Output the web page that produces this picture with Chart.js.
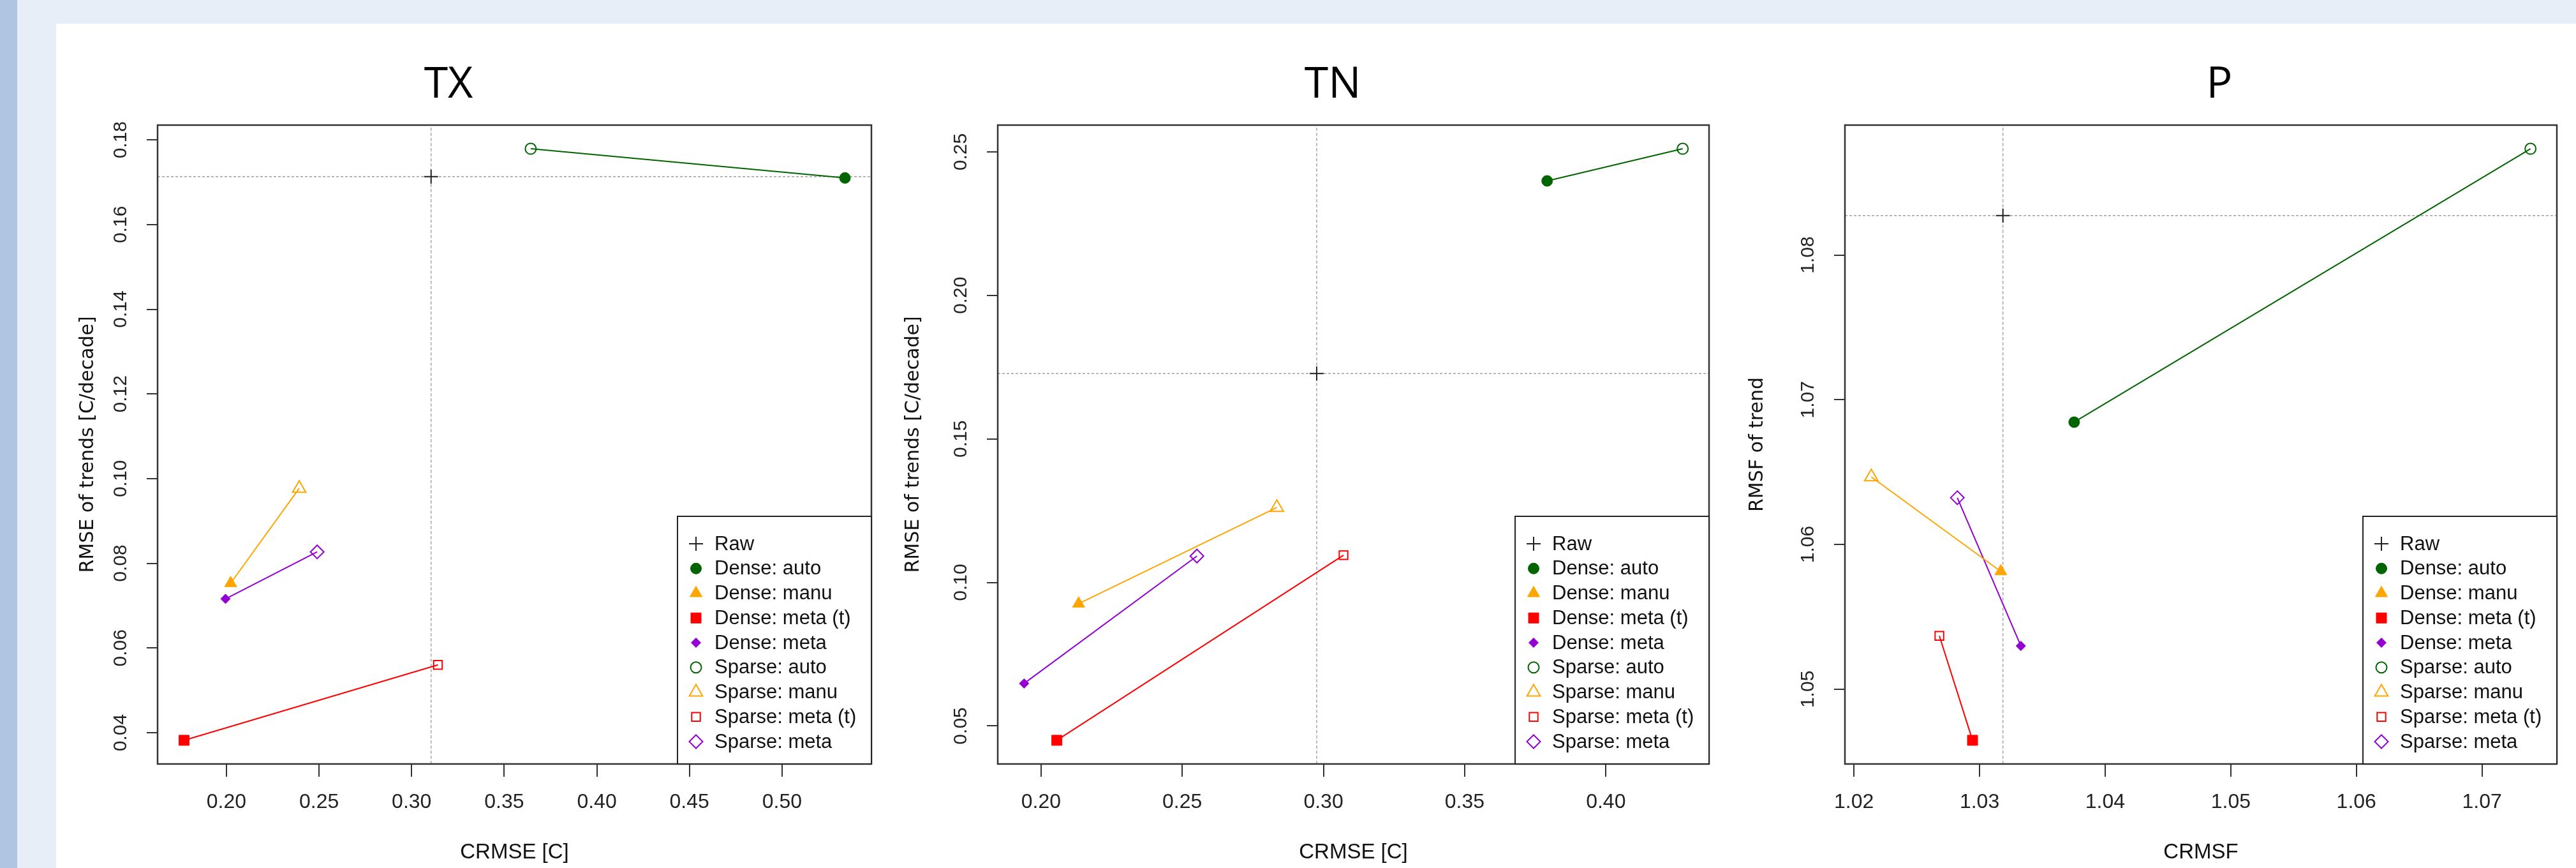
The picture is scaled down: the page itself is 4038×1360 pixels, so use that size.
<!DOCTYPE html>
<html>
<head>
<meta charset="utf-8">
<script src="https://cdn.jsdelivr.net/npm/chart.js@4.4.0/dist/chart.umd.min.js"></script>
<style>
  html, body { margin: 0; padding: 0; }
  body { width: 4038px; height: 1360px; background: #e8eef7; position: relative; overflow: hidden; }
  .franja { position: absolute; left: 0; top: 0; width: 27px; height: 1360px; background: #afc5e1; }
  .fondo { position: absolute; left: 88px; top: 37px; right: 0; bottom: 0; background: #fff; }
  .titulo { position: absolute; top: 93px; font-family: "Open Sans", sans-serif; font-size: 68px; line-height: 68px; transform: translateX(-50%); color: #000; }
  canvas { position: absolute; top: 140px; }
</style>
</head>
<body>
<div class="franja"></div>
<div class="fondo"></div>
<div class="titulo" style="left:703px">TX</div>
<div class="titulo" style="left:2089px">TN</div>
<div class="titulo" style="left:3479px">P</div>
<canvas id="graficoTX"></canvas>
<canvas id="graficoTN"></canvas>
<canvas id="graficoP"></canvas>
<script>
// Datos
const metodos = ['auto', 'manu', 'meta (t)', 'meta'];

const txDenseX = [0.534, 0.2023, 0.1771, 0.1995];
const txDenseY = [0.1710, 0.0753, 0.0382, 0.0716];
const txSparseX = [0.3643, 0.2393, 0.3142, 0.2490];
const txSparseY = [0.1779, 0.0977, 0.0560, 0.0827];
const txRaw = [0.3105, 0.1713];
const txXTicks = [0.20, 0.25, 0.30, 0.35, 0.40, 0.45, 0.50];
const txYTicks = [0.04, 0.06, 0.08, 0.10, 0.12, 0.14, 0.16, 0.18];

const tnDenseX = [0.3792, 0.2133, 0.2056, 0.1940];
const tnDenseY = [0.2399, 0.0926, 0.0450, 0.0648];
const tnSparseX = [0.4272, 0.2835, 0.3071, 0.2552];
const tnSparseY = [0.2511, 0.1261, 0.1095, 0.1092];
const tnRaw = [0.2976, 0.1728];
const tnXTicks = [0.20, 0.25, 0.30, 0.35, 0.40];
const tnYTicks = [0.05, 0.10, 0.15, 0.20, 0.25];

const pDenseX = [1.03753, 1.03169, 1.02944, 1.03329];
const pDenseY = [1.06845, 1.05814, 1.04647, 1.05299];
const pSparseX = [1.07386, 1.02138, 1.02680, 1.02823];
const pSparseY = [1.08734, 1.06467, 1.05369, 1.06323];
const pRaw = [1.03186, 1.08272];
const pXTicks = [1.02, 1.03, 1.04, 1.05, 1.06, 1.07];
const pYTicks = [1.05, 1.06, 1.07, 1.08];

// Estilos de simbolos (como pch de R)
const colores = ['#006400', '#ffa500', '#ff0000', '#9400d3'];
const estiloDense = ['circle', 'triangle', 'rect', 'rectRot'];
const radioDense = [8.5, 11, 11.3, 7.5];
const radioSparse = [8.5, 12, 9.5, 10.5];

const fuente = '"Liberation Sans", Arial, sans-serif';
const ANCHO_Y = 170, ALTO_X = 163;

function limites(valores) {
  const min = Math.min(...valores);
  const max = Math.max(...valores);
  const r = (max - min) * 0.04;
  return [min - r, max + r];
}

// Caja del grafico
const marco = {
  id: 'marco',
  afterDatasetsDraw(chart) {
    const a = chart.chartArea;
    const ctx = chart.ctx;
    ctx.save();
    ctx.strokeStyle = '#333';
    ctx.lineWidth = 2.5;
    ctx.strokeRect(a.left, a.top, a.right - a.left, a.bottom - a.top);
    ctx.restore();
  }
};

// Leyenda dentro del area, abajo a la derecha
const leyendaR = {
  id: 'leyendaR',
  afterDatasetsDraw(chart) {
    const a = chart.chartArea;
    const ctx = chart.ctx;
    const ancho = 304, alto = 388;
    const x0 = a.right - ancho, y0 = a.bottom - alto;
    ctx.save();
    ctx.fillStyle = '#fff';
    ctx.fillRect(x0, y0, ancho, alto);
    ctx.strokeStyle = '#222';
    ctx.lineWidth = 2;
    ctx.strokeRect(x0, y0, ancho, alto);
    ctx.font = '31px ' + fuente;
    ctx.textBaseline = 'middle';
    ctx.textAlign = 'left';
    chart.data.datasets.filter(ds => ds.leyenda).forEach((ds, i) => {
      const y = y0 + 43 + i * 38.75;
      ctx.fillStyle = ds.pointBackgroundColor || 'rgba(0,0,0,0)';
      ctx.strokeStyle = ds.pointBorderColor;
      ctx.lineWidth = ds.pointBorderWidth;
      Chart.helpers.drawPoint(ctx, {
        pointStyle: ds.pointStyle, radius: ds.pointRadius, rotation: 0, borderWidth: ds.pointBorderWidth
      }, x0 + 29, y);
      ctx.fillStyle = '#111';
      ctx.fillText(ds.label, x0 + 58, y + 1);
    });
    ctx.restore();
  }
};

function crearDatasets(d, xLim, yLim) {
  const sets = [];
  sets.push({
    label: 'Raw', leyenda: true, data: [{ x: d.raw[0], y: d.raw[1] }],
    pointStyle: 'cross', pointRadius: 11, pointBorderColor: '#222', pointBorderWidth: 2
  });
  metodos.forEach((m, i) => {
    sets.push({
      label: 'Dense: ' + m, leyenda: true, data: [{ x: d.denseX[i], y: d.denseY[i] }],
      pointStyle: estiloDense[i], pointRadius: radioDense[i],
      pointBackgroundColor: colores[i], pointBorderColor: colores[i], pointBorderWidth: 1
    });
  });
  metodos.forEach((m, i) => {
    sets.push({
      label: 'Sparse: ' + m, leyenda: true, data: [{ x: d.sparseX[i], y: d.sparseY[i] }],
      pointStyle: estiloDense[i], pointRadius: radioSparse[i],
      pointBackgroundColor: 'rgba(0,0,0,0)', pointBorderColor: colores[i], pointBorderWidth: 2
    });
  });
  // lineas Dense -> Sparse
  metodos.forEach((m, i) => {
    sets.push({
      data: [{ x: d.denseX[i], y: d.denseY[i] }, { x: d.sparseX[i], y: d.sparseY[i] }],
      showLine: true, borderColor: colores[i], borderWidth: 2, pointRadius: 0
    });
  });
  // lineas de referencia (Raw)
  sets.push({
    data: [{ x: d.raw[0], y: yLim[0] }, { x: d.raw[0], y: yLim[1] }],
    showLine: true, borderColor: '#a8a8a8', borderWidth: 1.5, borderDash: [5, 3], pointRadius: 0
  });
  sets.push({
    data: [{ x: xLim[0], y: d.raw[1] }, { x: xLim[1], y: d.raw[1] }],
    showLine: true, borderColor: '#a0a0a0', borderWidth: 1.5, borderDash: [4, 3], pointRadius: 0
  });
  return sets;
}

function renderPanel(canvasId, d) {
  const canvas = document.getElementById(canvasId);
  const izq = d.plotLeft - ANCHO_Y;
  canvas.width = d.plotRight - izq + 14;
  canvas.height = 1220;
  canvas.style.left = izq + 'px';

  const xLim = limites([...d.denseX, ...d.sparseX, d.raw[0]]);
  const yLim = limites([...d.denseY, ...d.sparseY, d.raw[1]]);

  new Chart(canvas.getContext('2d'), {
    type: 'scatter',
    data: { datasets: crearDatasets(d, xLim, yLim) },
    options: {
      responsive: false,
      animation: false,
      events: [],
      layout: { padding: { top: 56, right: 14, left: 0, bottom: 0 } },
      plugins: { legend: { display: false }, tooltip: { enabled: false } },
      scales: {
        x: {
          type: 'linear', min: xLim[0], max: xLim[1],
          afterBuildTicks: s => { s.ticks = d.xTicks.map(v => ({ value: v })); },
          afterFit: s => { s.height = ALTO_X; },
          ticks: {
            autoSkip: false, maxRotation: 0, padding: 21, color: '#222',
            font: { family: fuente, size: 32 },
            callback: v => v.toFixed(2)
          },
          grid: { drawOnChartArea: false, drawTicks: true, tickLength: 20, color: '#333', lineWidth: 2 },
          border: { display: true, color: '#333', width: 2 },
          title: {
            display: true, text: d.xTitulo, color: '#111',
            font: { family: fuente, size: 33 }, padding: { top: 0, bottom: 4 }
          }
        },
        y: {
          type: 'linear', min: yLim[0], max: yLim[1],
          afterBuildTicks: s => { s.ticks = d.yTicks.map(v => ({ value: v })); },
          afterFit: s => { s.width = ANCHO_Y; },
          ticks: {
            autoSkip: false, minRotation: 90, maxRotation: 90, crossAlign: 'center', padding: 11,
            color: '#222', font: { family: fuente, size: 30 },
            callback: v => v.toFixed(2)
          },
          grid: { drawOnChartArea: false, drawTicks: true, tickLength: 17, color: '#333', lineWidth: 2 },
          border: { display: true, color: '#333', width: 2 },
          title: {
            display: true, text: d.yTitulo, color: '#111',
            font: { family: '"DejaVu Sans", sans-serif', size: 30 }, padding: { top: d.yTituloPad, bottom: 0 }
          }
        }
      }
    },
    plugins: [marco, leyendaR]
  });
}

document.addEventListener("DOMContentLoaded", () => {
  renderPanel('graficoTX', {
    denseX: txDenseX, denseY: txDenseY, sparseX: txSparseX, sparseY: txSparseY, raw: txRaw,
    xTicks: txXTicks, yTicks: txYTicks,
    xTitulo: 'CRMSE [C]', yTitulo: 'RMSE of trends [C/decade]',
    plotLeft: 247, plotRight: 1366, yTituloPad: 43
  });
  renderPanel('graficoTN', {
    denseX: tnDenseX, denseY: tnDenseY, sparseX: tnSparseX, sparseY: tnSparseY, raw: tnRaw,
    xTicks: tnXTicks, yTicks: tnYTicks,
    xTitulo: 'CRMSE [C]', yTitulo: 'RMSE of trends [C/decade]',
    plotLeft: 1564, plotRight: 2679, yTituloPad: 20
  });
  renderPanel('graficoP', {
    denseX: pDenseX, denseY: pDenseY, sparseX: pSparseX, sparseY: pSparseY, raw: pRaw,
    xTicks: pXTicks, yTicks: pYTicks,
    xTitulo: 'CRMSF', yTitulo: 'RMSF of trend',
    plotLeft: 2892, plotRight: 4008, yTituloPad: 15
  });
});
</script>
</body>
</html>
